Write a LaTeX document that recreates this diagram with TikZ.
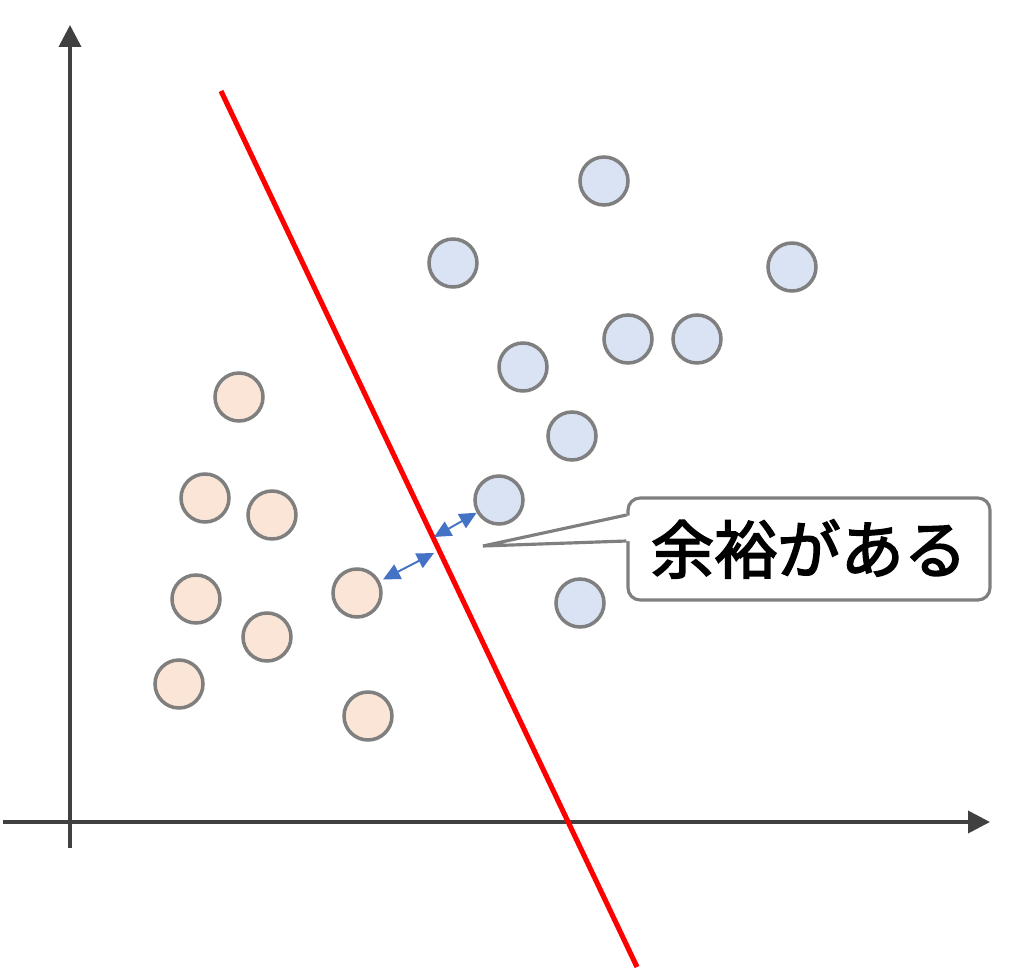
\documentclass[tikz,border=0pt]{standalone}
\usepackage{fontspec}
\newfontfamily\jpfont{Noto Sans CJK JP}[FakeBold=2.6]
\usepackage{tikz}
\usetikzlibrary{positioning, calc, arrows.meta}
\usepackage{xcolor}
\definecolor{AxisGray}{HTML}{404040}
\definecolor{EdgeGray}{HTML}{7F7F7F}
\definecolor{DotPeach}{HTML}{FBE5D6}
\definecolor{DotBlue}{HTML}{DAE3F3}
\definecolor{MarginBlue}{HTML}{4472C4}
\definecolor{LineRed}{HTML}{FF0000}

\begin{document}
\begin{tikzpicture}[
  x=0.02cm, y=-0.02cm,
  axis/.style={AxisGray, line width=2.1pt, -{Triangle[length=0.44cm, width=0.44cm]}},
  dot/.style={circle, draw=EdgeGray, line width=2pt, minimum size=0.96cm, inner sep=0pt},
  peach/.style={dot, fill=DotPeach},
  blue/.style={dot, fill=DotBlue},
  gap/.style={MarginBlue, line width=1.1pt, {Triangle[length=0.34cm, width=0.32cm]}-{Triangle[length=0.34cm, width=0.32cm]}},
  notebox/.style={draw=EdgeGray, line width=1.8pt, fill=white, rounded corners=0.24cm,
    minimum width=7.24cm, minimum height=2.04cm, font=\jpfont\fontsize{36}{40}\selectfont},
]
  \useasboundingbox (0,0) rectangle (1024,973);

  % Axes
  \draw[axis] (70,848) -- (70,25);
  \draw[axis] (3,822) -- (990,822);

  % Class A
  \node[peach] (o1) at (239,397) {};
  \node[peach] (o2) at (205,498) {};
  \node[peach] (o3) at (272,515) {};
  \node[peach] (o4) at (196,599) {};
  \node[peach] (o5) at (267,637) {};
  \node[peach] (o6) at (179,684) {};
  \node[peach] (o7) at (357,593) {};
  \node[peach] (o8) at (368,716) {};

  % Class B
  \node[blue] (b1) at (604,181) {};
  \node[blue] (b2) at (453,263) {};
  \node[blue] (b3) at (792,267) {};
  \node[blue] (b4) at (628,339) {};
  \node[blue] (b5) at (697,339) {};
  \node[blue] (b6) at (523,367) {};
  \node[blue] (b7) at (572,436) {};
  \node[blue] (b8) at (499,500) {};
  \node[blue] (b9) at (580,603) {};

  % Boundary
  \coordinate (top) at (221,91);
  \coordinate (bot) at (637,967);
  \draw[LineRed, line width=2.9pt] (top) -- (bot);

  % Margin arrows
  \coordinate (m1) at (434,553);
  \coordinate (m2) at (434,537);
  \draw[gap, shorten <=2pt] (o7) -- (m1);
  \draw[gap] (m2) -- (b8);

  % Callout
  \node[notebox] (note) at (809,549) {余裕がある};
  \coordinate (tip) at (483,546);
  \fill[white] (tip) -- ([xshift=3pt, yshift=0.68cm]note.west) -- ([xshift=3pt, yshift=0.16cm]note.west) -- cycle;
  \draw[EdgeGray, line width=1.8pt, line join=miter]
    ([yshift=0.68cm]note.west) -- (tip) -- ([yshift=0.16cm]note.west);
\end{tikzpicture}
\end{document}
